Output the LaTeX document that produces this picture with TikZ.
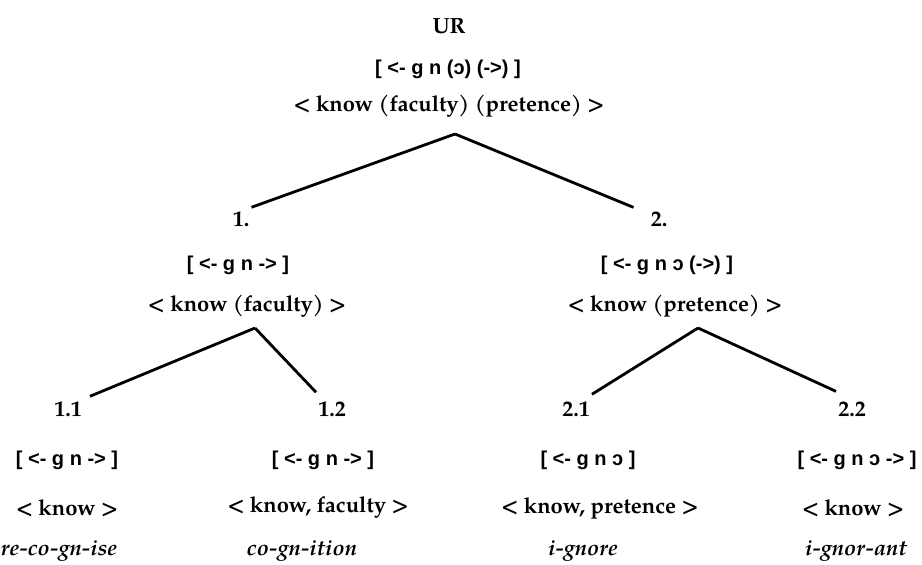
\documentclass[tikz,border=0pt]{standalone}
\usepackage{fontspec}
\setmainfont{texgyrepagella}[Extension=.otf,UprightFont=*-regular,BoldFont=*-bold,
  ItalicFont=*-italic,BoldItalicFont=*-bolditalic]
\newfontfamily\phonfont{Liberation Sans}
\usepackage{tikz}
\usetikzlibrary{positioning,calc}
\tikzset{
  num/.style={font=\fontsize{22}{26}\selectfont\bfseries,inner sep=2pt},
  phon/.style={font=\fontsize{20}{24}\selectfont\phonfont\bfseries,inner sep=2pt},
  morph/.style={font=\fontsize{22}{26}\selectfont\bfseries,inner sep=2pt},
  word/.style={font=\fontsize{22}{26}\selectfont\bfseries\itshape,inner sep=2pt},
  branch/.style={line width=2.8pt},
}

\begin{document}
\begin{tikzpicture}[x=1pt,y=-1pt]
  \useasboundingbox (0,0) rectangle (922,565);
  % root
  \node[num] (ur) at (449,26) {UR};
  \node[phon] (ph0) at (448,69) {[ <- g n (ɔ) (->) ]};
  \node[morph] (mo0) at (449,106) {< know (faculty) (pretence) >};
  \coordinate (a0) at (455,134);
  % first split
  \node[num] (n1) at (241,219) {1.};
  \node[phon] (ph1) at (238,265) {[ <- g n -> ]};
  \node[morph] (mo1) at (247,306) {< know (faculty) >};
  \coordinate (a1) at (255,328);
  \node[num] (n2) at (659,219) {2.};
  \node[phon] (ph2) at (667,265) {[ <- g n ɔ (->) ]};
  \node[morph] (mo2) at (675,306) {< know (pretence) >};
  \coordinate (a2) at (698,328);
  % leaves
  \node[num] (n11) at (68,409) {1.1};
  \node[phon] (ph11) at (67,460) {[ <- g n -> ]};
  \node[morph] (mo11) at (67,508) {< know >};
  \node[word] (w11) at (59,551) {re-co-gn-ise};
  \node[num] (n12) at (332,409) {1.2};
  \node[phon] (ph12) at (323,460) {[ <- g n -> ]};
  \node[morph] (mo12) at (318,508) {< know, faculty >};
  \node[word] (w12) at (302,551) {co-gn-ition};
  \node[num] (n21) at (576,409) {2.1};
  \node[phon] (ph21) at (588,460) {[ <- g n ɔ ]};
  \node[morph] (mo21) at (600,508) {< know, pretence >};
  \node[word] (w21) at (583,551) {i-gnore};
  \node[num] (n22) at (852,409) {2.2};
  \node[phon] (ph22) at (857,460) {[ <- g n ɔ -> ]};
  \node[morph] (mo22) at (853,508) {< know >};
  \node[word] (w22) at (856,551) {i-gnor-ant};
  % branches
  \draw[branch] (a0) -- ([yshift=2pt]n1.north east);
  \draw[branch] (a0) -- ([shift={(-15pt,2pt)}]n2.north west);
  \draw[branch] (a1) -- ([shift={(6pt,3pt)}]n11.north east);
  \draw[branch] (a1) -- ([yshift=7pt]n12.north west);
  \draw[branch] (a2) -- ([yshift=5pt]n21.north east);
  \draw[branch] (a2) -- ([yshift=8pt]n22.north west);
\end{tikzpicture}
\end{document}
